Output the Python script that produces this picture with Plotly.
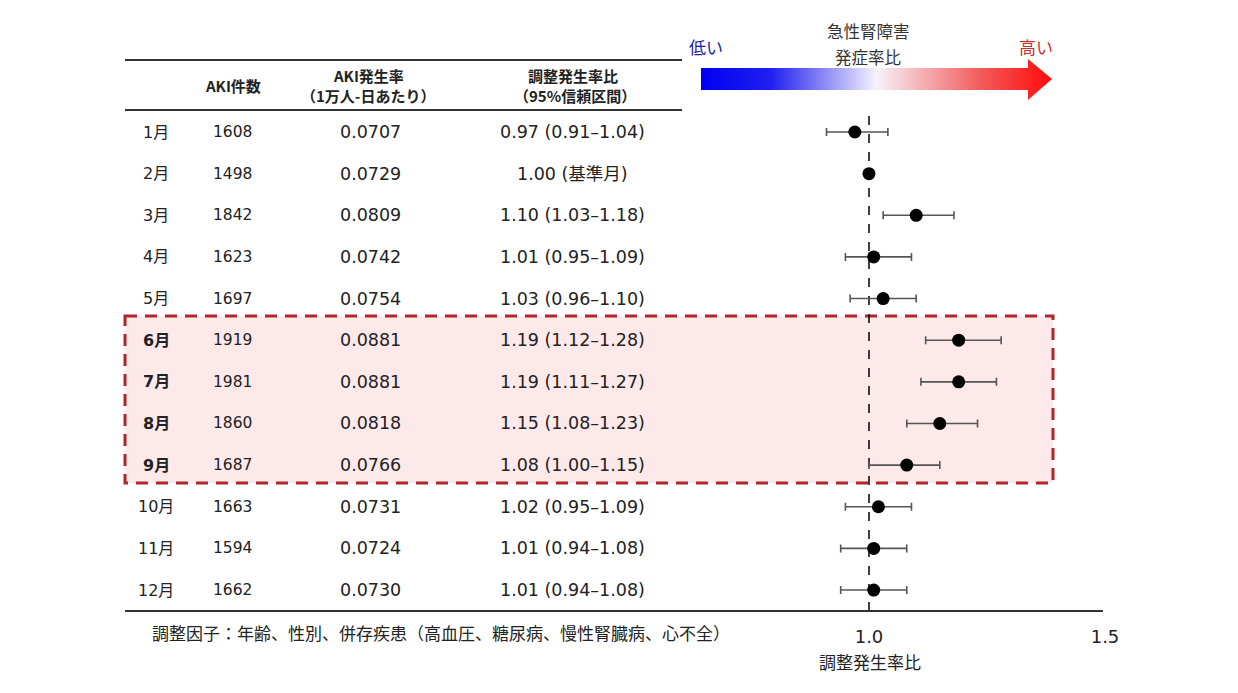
import plotly.graph_objects as go

# ---------------- data ----------------
months = ["1月", "2月", "3月", "4月", "5月", "6月", "7月", "8月", "9月", "10月", "11月", "12月"]
aki_counts = [1608, 1498, 1842, 1623, 1697, 1919, 1981, 1860, 1687, 1663, 1594, 1662]
aki_rates = ["0.0707", "0.0729", "0.0809", "0.0742", "0.0754", "0.0881", "0.0881",
             "0.0818", "0.0766", "0.0731", "0.0724", "0.0730"]
irr = [0.97, 1.00, 1.10, 1.01, 1.03, 1.19, 1.19, 1.15, 1.08, 1.02, 1.01, 1.01]
irr_lo = [0.91, 1.00, 1.03, 0.95, 0.96, 1.12, 1.11, 1.08, 1.00, 0.95, 0.94, 0.94]
irr_hi = [1.04, 1.00, 1.18, 1.09, 1.10, 1.28, 1.27, 1.23, 1.15, 1.09, 1.08, 1.08]
irr_labels = ["0.97 (0.91–1.04)", "1.00 (基準月)", "1.10 (1.03–1.18)", "1.01 (0.95–1.09)",
              "1.03 (0.96–1.10)", "1.19 (1.12–1.28)", "1.19 (1.11–1.27)", "1.15 (1.08–1.23)",
              "1.08 (1.00–1.15)", "1.02 (0.95–1.09)", "1.01 (0.94–1.08)", "1.01 (0.94–1.08)"]
highlight = [False, False, False, False, False, True, True, True, True, False, False, False]
x_ticks = [1.0, 1.5]
x_tick_labels = ["1.0", "1.5"]
ref_value = 1.0

# ---------------- layout helpers ----------------
W, H = 1238, 693
JP = "Noto Sans CJK JP"
NUM = "DejaVu Sans, Noto Sans CJK JP"


def px(x):
    return x / W


def py(y):
    return 1 - y / H


rows = list(range(len(months)))
row_px = 41.64
first_row_y = 132
y_top = -first_row_y / row_px
y_bot = (H - first_row_y) / row_px

x_left = 1.0 - 869 / 472
x_right = 1.0 + (W - 869) / 472

fig = go.Figure()

# forest plot
fig.add_trace(go.Scatter(
    x=irr, y=rows, mode="markers",
    marker=dict(color="black", size=13),
    error_x=dict(type="data", symmetric=False,
                 array=[h - v for h, v in zip(irr_hi, irr)],
                 arrayminus=[v - l for v, l in zip(irr, irr_lo)],
                 color="#555555", thickness=1.6, width=4),
    hoverinfo="skip", showlegend=False,
))

# gradient arrow (pixel overlay axes)
arrow_x = [701, 1028, 1028, 1052, 1028, 1028, 701, 701]
arrow_y = [68, 68, 59, 79, 100, 90, 90, 68]
fig.add_trace(go.Scatter(
    x=arrow_x, y=arrow_y, xaxis="x2", yaxis="y2", mode="lines",
    line=dict(width=0), fill="toself",
    fillgradient=dict(type="horizontal",
                      colorscale=[[0, "#0000f0"], [0.2, "#2020f0"], [0.5, "#f6f2fa"],
                                  [0.8, "#f25a5a"], [1, "#ff0a0a"]]),
    hoverinfo="skip", showlegend=False,
))

shapes = []
# highlight box
shapes.append(dict(type="rect", xref="paper", yref="y", x0=px(125), x1=px(1053),
                   y0=4.42, y1=8.43, fillcolor="#fde9ea",
                   line=dict(color="#b0262c", width=3, dash="12px,8px"), layer="below"))
# table lines
for yy in (60, 110):
    shapes.append(dict(type="line", xref="paper", yref="paper", x0=px(125), x1=px(682),
                       y0=py(yy), y1=py(yy), line=dict(color="#333333", width=2)))
shapes.append(dict(type="line", xref="paper", yref="paper", x0=px(125), x1=px(1103),
                   y0=py(611), y1=py(611), line=dict(color="#333333", width=2)))
# reference line
shapes.append(dict(type="line", xref="x", yref="paper", x0=ref_value, x1=ref_value,
                   y0=py(611), y1=py(115), line=dict(color="black", width=1.5, dash="dash"),
                   layer="below"))

ann = []


def add(text, x, y, size, yref="paper", bold=False, color="#222222", font=JP, xanchor="center"):
    if bold:
        text = "<b>" + text + "</b>"
    ann.append(dict(text=text, x=x, y=y, xref="paper", yref=yref, showarrow=False,
                    xanchor=xanchor, yanchor="middle",
                    font=dict(family=font, size=size, color=color)))


# headers
add("AKI件数", px(233), py(85), 15, bold=True)
add("AKI発生率", px(368), py(75), 15, bold=True)
add("（1万人-日あたり）", px(368), py(96), 15, bold=True)
add("調整発生率比", px(573), py(75), 15, bold=True)
add("（95%信頼区間）", px(575), py(96), 15, bold=True)

# table rows
for i in rows:
    add(months[i], px(156), i, 16, yref="y", bold=highlight[i], font=NUM)
    add(str(aki_counts[i]), px(232), i, 15.5, yref="y", font=NUM)
    add(aki_rates[i], px(370), i, 17.5, yref="y", font=NUM)
    add(irr_labels[i], px(572), i, 17.5, yref="y", font=NUM)

# arrow labels
add("低い", px(706), py(46), 17, color="#1c1ca8")
add("高い", px(1036), py(46), 17, color="#c8302c")
add("急性腎障害", px(868), py(31), 16.5, color="#333333")
add("発症率比", px(868), py(57), 16.5, color="#333333")

# footnote and axis title
add("調整因子：年齢、性別、併存疾患（高血圧、糖尿病、慢性腎臓病、心不全）", px(150), py(632), 17,
    color="#222222", xanchor="left")
add("調整発生率比", px(870), py(661), 17, color="#222222")

fig.update_layout(
    width=W, height=H,
    margin=dict(l=0, r=0, t=0, b=0),
    paper_bgcolor="white", plot_bgcolor="rgba(0,0,0,0)",
    shapes=shapes, annotations=ann,
    xaxis=dict(range=[x_left, x_right], domain=[0, 1], anchor="free", position=py(611),
               tickvals=x_ticks, ticktext=x_tick_labels, ticks="", showline=False,
               showgrid=False, zeroline=False, ticklabelstandoff=13,
               tickfont=dict(family=NUM, size=18, color="#222222")),
    yaxis=dict(range=[y_bot, y_top], domain=[0, 1], visible=False, showgrid=False,
               zeroline=False),
    xaxis2=dict(range=[0, W], domain=[0, 1], overlaying="x", anchor="y2", visible=False),
    yaxis2=dict(range=[H, 0], domain=[0, 1], overlaying="y", anchor="x2", visible=False),
)

fig.write_html("out.html")
